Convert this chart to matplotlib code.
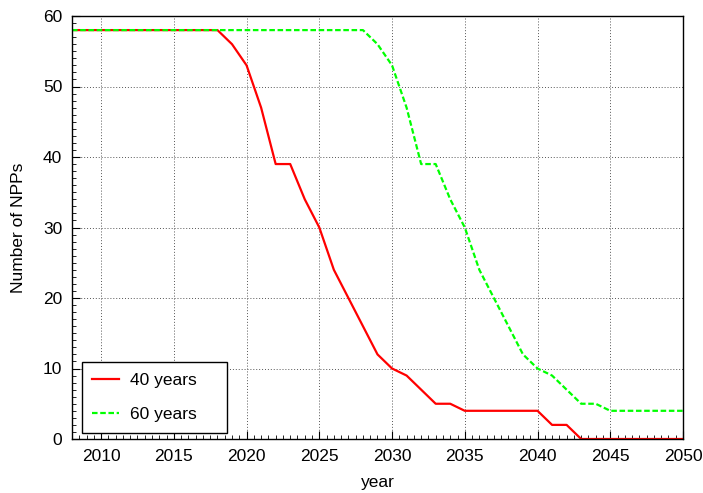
import matplotlib

matplotlib.use("Agg")
import matplotlib.pyplot as plt  # noqa: E402
from matplotlib.ticker import MultipleLocator  # noqa: E402

# NPPs still operating per year, for two lifetime assumptions
years = list(range(2008, 2051))
npp_40 = [58] * 11 + [56, 53, 47, 39, 39, 34, 30, 24, 20, 16, 12, 10, 9, 7, 5, 5,
                      4, 4, 4, 4, 4, 4, 2, 2, 0, 0, 0, 0, 0, 0, 0, 0]
npp_60 = [58] * 21 + [56, 53, 47, 39, 39, 34, 30, 24, 20, 16, 12, 10, 9, 7, 5, 5,
                      4, 4, 4, 4, 4, 4]
labels = ["40 years", "60 years"]

plt.rcParams["font.family"] = ["Liberation Sans", "DejaVu Sans"]
plt.rcParams["font.size"] = 12.5

fig = plt.figure(figsize=(7.03, 4.93), dpi=100)
ax = fig.add_axes([72 / 703, 1 - 439 / 493, (683 - 72) / 703, (439 - 16) / 493])

ax.plot(years, npp_40, color="#ff0000", lw=1.6, label=labels[0])
ax.plot(years, npp_60, color="#00ff00", lw=1.6, ls=(0, (2.5, 1.2)), label=labels[1])

ax.set_xlim(2008, 2050)
ax.set_ylim(0, 60)
ax.xaxis.set_major_locator(MultipleLocator(5))
ax.xaxis.set_minor_locator(MultipleLocator(0.5))
ax.yaxis.set_major_locator(MultipleLocator(10))
ax.yaxis.set_minor_locator(MultipleLocator(1))
ax.tick_params(which="both", direction="in", top=False, right=False)
ax.tick_params(which="major", length=6, width=0.8, pad=7)
ax.tick_params(which="minor", length=3, width=0.6)
ax.grid(True, which="major", ls=(0, (1, 2)), color="#555555", lw=0.7)
for s in ax.spines.values():
    s.set_linewidth(1.0)

ax.set_xlabel("year", labelpad=8)
ax.set_ylabel("Number of NPPs", labelpad=12)

# gnuplot-style key: wider box than the text needs
ax.legend(loc="lower left", bbox_to_anchor=(0.0164, 0.015, 0.237, 0.1), mode="expand",
          fancybox=False, edgecolor="black", framealpha=1, handlelength=1.55,
          handletextpad=0.6, borderpad=0.6, borderaxespad=0, labelspacing=1.1,
          fontsize=12.5)

fig.savefig("out.png", dpi=100)
